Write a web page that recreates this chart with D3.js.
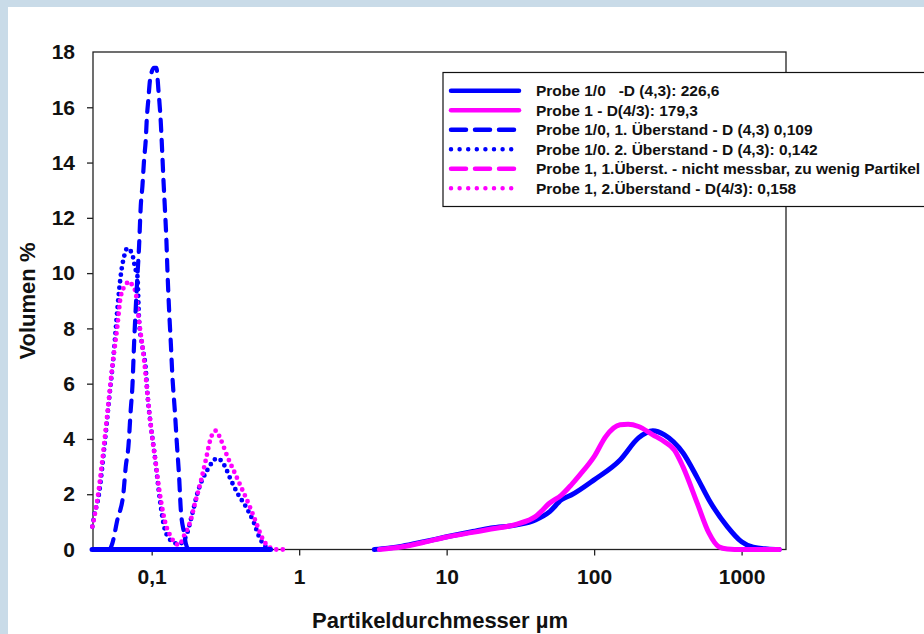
<!DOCTYPE html>
<html><head><meta charset="utf-8">
<script src="https://cdn.jsdelivr.net/npm/d3@7"></script>
<style>html,body{margin:0;padding:0;background:#fff}svg{display:block}</style>
</head><body>
<svg id="chart" width="924" height="634"></svg>
<script>
// ---------- data ----------
const xTicks = [0.1, 1, 10, 100, 1000];
const xTickLabels = ["0,1", "1", "10", "100", "1000"];
const yTicks = [0, 2, 4, 6, 8, 10, 12, 14, 16, 18];

// Probe 1/0 (solid blue): [diameter µm, volume %]; null = gap
const probe10 = [[0.0394,0],[0.64,0],null,
  [3.23,0],[4,0.05],[5,0.12],[7,0.28],[10,0.46],[15,0.65],[20,0.78],[30,0.89],[40,1.07],[50,1.37],[60,1.8],
  [70,1.97],[100,2.52],[150,3.24],[200,4.04],[250,4.3],[300,4.15],[400,3.5],[500,2.6],[600,1.8],
  [800,0.83],[1000,0.28],[1200,0.08],[1500,0.02],[1800,0]];
// Probe 1 (solid magenta)
const probe1 = [[3.5,0],[5,0.1],[7,0.26],[10,0.45],[15,0.62],[20,0.74],[30,0.92],[40,1.19],[50,1.68],[60,1.97],
  [70,2.34],[80,2.7],[100,3.36],[120,4.09],[150,4.51],[170,4.53],[200,4.45],[250,4.15],[300,3.9],
  [350,3.6],[400,3.0],[500,1.68],[600,0.6],[700,0.1],[800,0.02],[1000,0],[1800,0]];
// Probe 1/0, 1. Überstand (dashed blue)
const probe10u1 = [[0.0522,0],[0.0541,0.22],[0.0585,1.07],[0.0643,2.04],[0.0667,3.0],[0.0695,3.72],[0.0721,5.05],
  [0.0740,5.9],[0.0760,7.47],[0.0800,9.88],[0.0821,10.97],[0.0843,12.42],[0.0865,13.14],[0.0888,14.1],
  [0.0912,14.84],[0.0926,15.56],[0.0950,16.3],[0.0975,17.0],[0.1038,17.43],[0.1076,17.43],[0.1110,16.65],
  [0.1153,15.44],[0.1182,14.23],[0.1201,13.4],[0.1227,12.42],[0.1258,11.2],[0.1278,10.13],[0.1312,8.68],
  [0.1348,7.47],[0.1382,6.26],[0.1434,5.05],[0.1481,3.85],[0.1534,2.64],[0.1576,1.43],[0.1659,0.59],
  [0.1703,0.22],[0.1766,0]];
// Probe 1/0, 2. Überstand (dotted blue)
const probe10u2 = [[0.0396,0.83],[0.0407,1.19],[0.0440,2.04],[0.0475,3.6],[0.0514,5.42],[0.0556,7.23],[0.0585,8.68],
  [0.0620,10.0],[0.0650,10.6],[0.0684,10.9],[0.0740,10.67],[0.0760,10.37],[0.0780,10.1],[0.0800,9.9],
  [0.0821,8.3],[0.0865,7.35],[0.0912,6.5],[0.0935,5.66],[0.0988,4.45],[0.1058,3.24],[0.1122,2.04],
  [0.1214,0.83],[0.1312,0.4],[0.1457,0.22],[0.1534,0.2],[0.1703,0.46],[0.1888,1.31],[0.2042,2.04],
  [0.2386,2.88],[0.2791,3.3],[0.3099,3.06],[0.3440,2.52],[0.3814,2.04],[0.4350,1.55],[0.4951,0.95],
  [0.5352,0.46],[0.5942,0.1],[0.6427,0]];
// Probe 1, 2. Überstand (dotted magenta)
const probe1u2 = [[0.0396,0.83],[0.0428,1.79],[0.0463,3.24],[0.0501,4.93],[0.0541,6.62],[0.0585,8.07],[0.0617,9.16],
  [0.0667,9.58],[0.0703,9.7],[0.0740,9.55],[0.0780,9.28],[0.0804,8.68],[0.0830,8.07],[0.0888,6.87],
  [0.0935,5.66],[0.0988,4.45],[0.1058,3.24],[0.1134,2.04],[0.1258,0.83],[0.1312,0.59],[0.1419,0.28],
  [0.1534,0.16],[0.1659,0.5],[0.1842,1.07],[0.1940,1.55],[0.2153,2.46],[0.2328,3.24],[0.2517,4.03],
  [0.2722,4.3],[0.2943,3.97],[0.3263,3.36],[0.3622,2.82],[0.4022,2.28],[0.4578,1.61],[0.5083,1.0],
  [0.5637,0.4],[0.6427,0.05],[0.70,0],[0.83,0]];

const legendLabels = [
  "Probe 1/0   -D (4,3): 226,6",
  "Probe 1 - D(4/3): 179,3",
  "Probe 1/0, 1. Überstand - D (4,3) 0,109",
  "Probe 1/0. 2. Überstand - D (4,3): 0,142",
  "Probe 1, 1.Überst. - nicht messbar, zu wenig Partikel",
  "Probe 1, 2.Überstand - D(4/3): 0,158"
];
const xTitle = "Partikeldurchmesser µm";
const yTitle = "Volumen %";

// ---------- layout ----------
const W = 924, H = 634;
const L = 93, R = 786, T = 52, B = 549.5;
const BLUE = "#0000ff", MAG = "#ff00ff";
const styles = {
  solid: {w: 5, dash: null},
  dashed: {w: 4.2, dash: "11,9"},
  dotted: {w: 4.8, dash: "0,6.5"}
};
const series = [
  {data: probe10u2, color: BLUE, style: "dotted"},
  {data: probe1u2, color: MAG, style: "dotted"},
  {data: probe10u1, color: BLUE, style: "dashed"},
  {data: probe10, color: BLUE, style: "solid"},
  {data: probe1, color: MAG, style: "solid"}
];
const legendItems = [
  {color: BLUE, style: "solid"}, {color: MAG, style: "solid"},
  {color: BLUE, style: "dashed"}, {color: BLUE, style: "dotted"},
  {color: MAG, style: "dashed"}, {color: MAG, style: "dotted"}
];

const svg = d3.select("#chart");
svg.append("rect").attr("width", W).attr("height", H).attr("fill", "#c9dbe8");
svg.append("rect").attr("x", 8).attr("y", 7).attr("width", W - 8).attr("height", H - 7).attr("fill", "#fff");

const x = d3.scaleLog().domain([0.04, 2000]).range([L, R]);
const y = d3.scaleLinear().domain([0, 18]).range([B, T]);

const FONT = "'Liberation Sans', Arial, sans-serif";

// frame
svg.append("rect").attr("x", L).attr("y", T).attr("width", R - L).attr("height", B - T)
  .attr("fill", "none").attr("stroke", "#222").attr("stroke-width", 1.3);

// y axis
const yAx = svg.append("g").attr("transform", `translate(${L},0)`)
  .call(d3.axisLeft(y).tickValues(yTicks).tickSize(6).tickPadding(12).tickFormat(d3.format("d")));
yAx.select(".domain").remove();
yAx.selectAll(".tick line").attr("stroke", "#222").attr("stroke-width", 1.3)
  .attr("display", d => (d === 0 || d === 18) ? "none" : null);
yAx.selectAll("text").attr("font-family", FONT).attr("font-weight", "bold").attr("font-size", 21).attr("fill", "#111");

// x axis
const xAx = svg.append("g").attr("transform", `translate(0,${B})`)
  .call(d3.axisBottom(x).tickValues(xTicks).tickSize(6).tickPadding(14)
    .tickFormat((d, i) => xTickLabels[i]));
xAx.select(".domain").remove();
xAx.selectAll(".tick line").attr("stroke", "#222").attr("stroke-width", 1.3);
xAx.selectAll("text").attr("font-family", FONT).attr("font-weight", "bold").attr("font-size", 21).attr("fill", "#111");

// titles
svg.append("text").attr("x", 440).attr("y", 628).attr("text-anchor", "middle")
  .attr("font-family", FONT).attr("font-weight", "bold").attr("font-size", 22).attr("fill", "#111").text(xTitle);
svg.append("text").attr("transform", "translate(35,301) rotate(-90)").attr("text-anchor", "middle")
  .attr("font-family", FONT).attr("font-weight", "bold").attr("font-size", 22).attr("fill", "#111").text(yTitle);

// curves
const line = d3.line().defined(d => d !== null).x(d => x(d[0])).y(d => y(d[1])).curve(d3.curveMonotoneX);
const plot = svg.append("g");
series.forEach(s => {
  const st = styles[s.style];
  plot.append("path").datum(s.data).attr("d", line).attr("fill", "none")
    .attr("stroke", s.color).attr("stroke-width", st.w).attr("stroke-linecap", "round")
    .attr("stroke-linejoin", "round").attr("stroke-dasharray", st.dash);
});

// legend
const lg = svg.append("g");
lg.append("rect").attr("x", 443).attr("y", 72.5).attr("width", 520).attr("height", 134)
  .attr("fill", "#fff").attr("stroke", "#111").attr("stroke-width", 1.2);
const legDash = {solid: null, dashed: "15,9", dotted: "0,8.6"};
legendItems.forEach((it, i) => {
  const cy = 90.7 + i * 19.5;
  lg.append("line").attr("x1", 451).attr("x2", 519).attr("y1", cy).attr("y2", cy)
    .attr("stroke", it.color).attr("stroke-width", 4.5).attr("stroke-linecap", "round")
    .attr("stroke-dasharray", legDash[it.style]);
  lg.append("text").attr("x", 536).attr("y", cy).attr("dy", "0.36em")
    .attr("font-family", FONT).attr("font-weight", "bold").attr("font-size", 15.5).attr("fill", "#111")
    .style("white-space", "pre").text(legendLabels[i]);
});
</script>
</body></html>
